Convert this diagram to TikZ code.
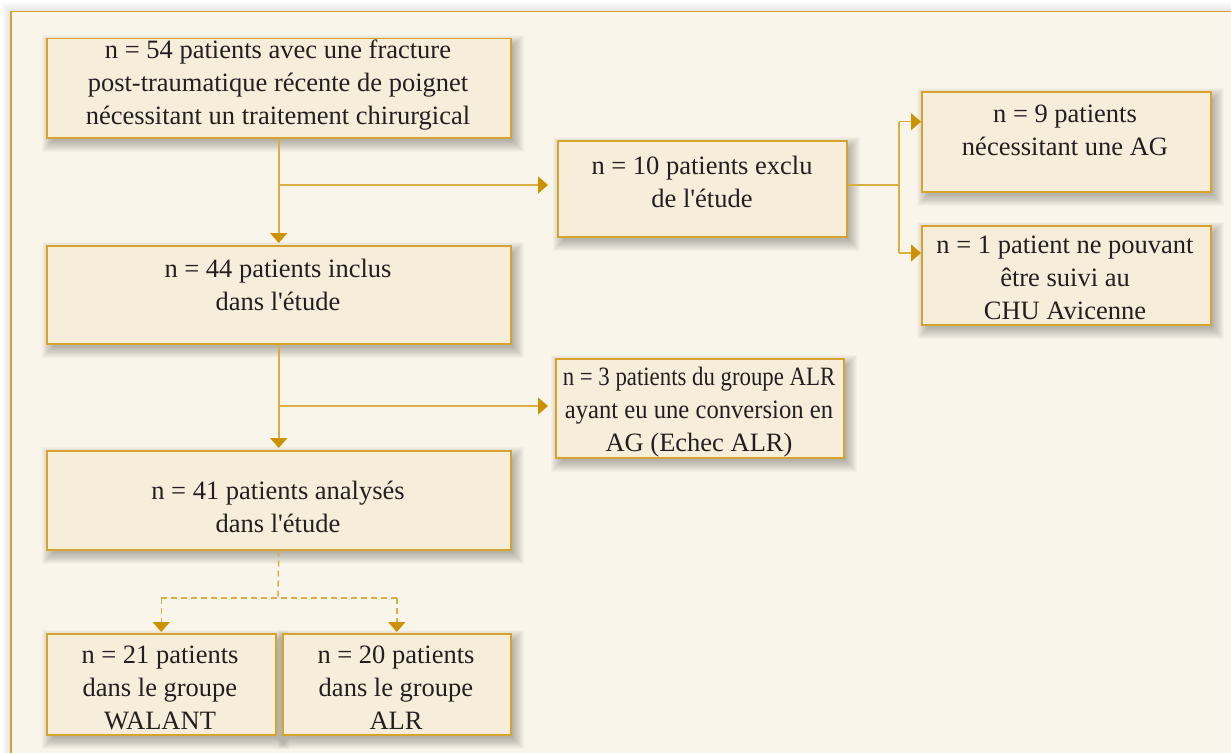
\documentclass[tikz,border=0pt]{standalone}
\usepackage{fontspec}
\usepackage{graphicx}
\setmainfont{Liberation Serif}[Ligatures=TeXOff]
\usetikzlibrary{arrows.meta,calc}
\definecolor{gold}{HTML}{D6A32E}
\definecolor{linegold}{HTML}{DBAE45}
\definecolor{arrowgold}{HTML}{CC9200}
\definecolor{boxfill}{HTML}{F6EEDB}
\definecolor{framefill}{HTML}{F9F5EB}
\definecolor{txt}{HTML}{231F20}
\pgfdeclarelayer{back}
\pgfdeclarelayer{shadow}
\pgfsetlayers{back,shadow,main}
\tikzset{
  box/.style={draw=gold, line width=1.5pt, fill=boxfill, anchor=north west, inner sep=0pt},
  label text/.style={align=center, text=txt, inner sep=0pt,
    font=\fontsize{26.5}{33}\selectfont},
  conn/.style={draw=linegold, line width=1.5pt},
  arr/.style={conn, -{Triangle[width=17pt,length=10pt,fill=arrowgold,color=arrowgold]}},
  darr/.style={arr, dash pattern=on 6pt off 4pt},
  dline/.style={conn, dash pattern=on 6pt off 4pt},
}
\newcommand{\softshadow}[1]{%
  \begin{pgfonlayer}{shadow}
  \foreach \e in {-3,...,8}{
    \fill[black, opacity=0.025]
      ($(#1.north west)+(4-\e,5-\e)$) rectangle ($(#1.south east)+(4+\e,5+\e)$);
  }
  \end{pgfonlayer}}
\begin{document}
\begin{tikzpicture}[x=1pt,y=-1pt]
\useasboundingbox (0,0) rectangle (1231,752);
\begin{pgfonlayer}{back}
\fill[white] (0,0) rectangle (1231,752);
\foreach \e in {1,...,8}{
  \fill[black, opacity=0.012] ($(10,11)-(\e,\e)$) rectangle (1260,780);
}
\node[draw=gold, line width=1.5pt, fill=framefill, anchor=north west, inner sep=0pt,
  minimum width=1240pt, minimum height=760pt] (frame) at (10,11) {};
\end{pgfonlayer}

\node[box, minimum width=464pt, minimum height=99pt] (b1) at (46,38) {};
\node[box, minimum width=289pt, minimum height=96pt] (b2) at (557,140) {};
\node[box, minimum width=289pt, minimum height=100pt] (b3) at (921,91) {};
\node[box, minimum width=289pt, minimum height=99pt] (b4) at (921,225) {};
\node[box, minimum width=464pt, minimum height=98pt] (b5) at (46,245) {};
\node[box, minimum width=288pt, minimum height=99pt] (b6) at (555,358) {};
\node[box, minimum width=464pt, minimum height=99pt] (b7) at (46,450) {};
\node[box, minimum width=229pt, minimum height=101pt] (b8) at (46,633) {};
\node[box, minimum width=228pt, minimum height=101pt] (b9) at (282,633) {};
\foreach \b in {b1,b2,b3,b4,b5,b6,b7,b8,b9}{\softshadow{\b}}

\node[label text] (t1) at (278,85)
  {n = 54 patients avec une fracture\\post-traumatique récente de poignet\\nécessitant un traitement chirurgical};
\node[label text] (t2) at (702,182) {n = 10 patients exclu\\de l'étude};
\node[label text] (t3) at (1065,130) {n = 9 patients\\nécessitant une AG};
\node[label text] (t4) at (1065,278) {n = 1 patient ne pouvant\\être suivi au\\CHU Avicenne};
\node[label text] (t5) at (278,285) {n = 44 patients inclus\\dans l'étude};
\node[label text] (t6) at (699,412)
  {\scalebox{0.86}[1]{n = 3 patients du groupe ALR}\\\scalebox{0.93}[1]{ayant eu une conversion en}\\AG (Echec ALR)};
\node[label text] (t7) at (278,507) {n = 41 patients analysés\\dans l'étude};
\node[label text] (t8) at (160,688) {n = 21 patients\\dans le groupe\\WALANT};
\node[label text] (t9) at (396,688) {n = 20 patients\\dans le groupe\\ALR};

% first stage
\coordinate (j1) at (278,185);
\draw[arr, shorten >=2pt] (b1.south) -- (b5.north);
\draw[arr, shorten >=9pt] (j1) -- (b2.west |- j1);
\coordinate (k0) at (b2.east |- j1);
\coordinate (k1) at (899,185);
\coordinate (k2) at (899,121.7);
\coordinate (k3) at (899,253);
\draw[conn] (k0) -- (k1);
\draw[conn] (k2) -- (k3);
\draw[arr] (k2) -- (b3.west |- k2);
\draw[arr] (k3) -- (b4.west |- k3);

% second stage
\coordinate (j2) at (278,406);
\draw[arr, shorten >=2pt] (b5.south) -- (b7.north);
\draw[arr, shorten >=7pt] (j2) -- (b6.west |- j2);

% dashed split
\coordinate (d0) at (278,598);
\coordinate (d1) at (b8.north |- d0);
\coordinate (d2) at (b9.north |- d0);
\draw[dline] (b7.south) -- (d0);
\draw[dline] (d1) -- (d2);
\draw[darr, shorten >=1pt] (d1) -- (b8.north);
\draw[darr, shorten >=1pt] (d2) -- (b9.north);
\end{tikzpicture}
\end{document}
